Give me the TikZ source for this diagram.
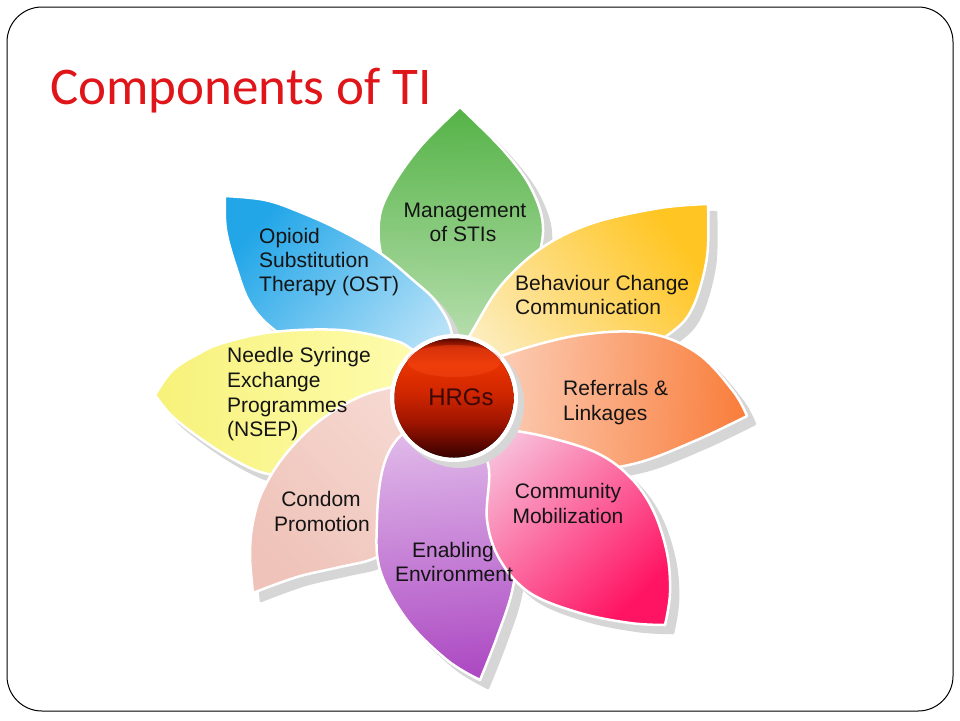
\documentclass[tikz,border=0pt]{standalone}
\usepackage{fontspec}
\setmainfont{Liberation Sans}
\newfontfamily\titlefont{Carlito}
\definecolor{titlered}{HTML}{DF1519}
\definecolor{lbltext}{HTML}{141414}
\definecolor{hrgtext}{HTML}{3A0808}
\definecolor{b0}{HTML}{380300}
\definecolor{b1}{HTML}{5A0600}
\definecolor{b2}{HTML}{A01500}
\definecolor{b3}{HTML}{D02600}
\definecolor{b4}{HTML}{E83300}
\definecolor{b5}{HTML}{C42400}
\definecolor{b6}{HTML}{5A0700}
\definecolor{hlB}{HTML}{FF5020}
\definecolor{gT}{HTML}{55B347}\definecolor{gB}{HTML}{C8E6C0}
\definecolor{blT}{HTML}{22A6E8}\definecolor{blB}{HTML}{B8E2F8}
\definecolor{yoT}{HTML}{FFC522}\definecolor{yoB}{HTML}{FDEDBE}
\definecolor{nsT}{HTML}{F7F27A}\definecolor{nsB}{HTML}{FFFDB5}
\definecolor{orT}{HTML}{F97E3C}\definecolor{orB}{HTML}{FCD5C2}
\definecolor{cdT}{HTML}{EFC3B9}\definecolor{cdB}{HTML}{F6D9D2}
\definecolor{puT}{HTML}{AD4AC3}\definecolor{puB}{HTML}{E3C1EC}
\definecolor{pkT}{HTML}{FF1463}\definecolor{pkB}{HTML}{F8BEDA}
\pgfdeclareverticalshading{ballshade}{100bp}{color(0bp)=(b0); color(25bp)=(b0); color(30bp)=(b1); color(40bp)=(b2); color(52bp)=(b3); color(64bp)=(b4); color(71bp)=(b5); color(75bp)=(b6); color(100bp)=(b6)}
\newcommand\drawpetal[5]{%
  \fill[pshadow, shift={(8,8)}] plot[smooth,tension=0.6] coordinates {#1} -- plot[smooth,tension=0.6] coordinates {#2} -- cycle;
  \path[petalbox, top color=#3, bottom color=#4, shading angle=#5] plot[smooth,tension=0.6] coordinates {#1} -- plot[smooth,tension=0.6] coordinates {#2} -- cycle;
}
\begin{document}
\begin{tikzpicture}[x=1pt,y=-1pt,
  petalbox/.style={draw=white, line width=2.5pt, line join=round},
  pshadow/.style={fill=black!16, draw=black!16, line width=2.5pt, line join=round},
  lbl/.style={font=\fontsize{21}{25}\selectfont, text=lbltext, inner sep=0pt},
]
\useasboundingbox (0,0) rectangle (960,720);
\fill[white] (0,0) rectangle (960,720);
\draw[line width=1pt, rounded corners=35pt] (7,7) rectangle (953,711);
\node[font=\titlefont\fontsize{53}{60}\selectfont, text=titlered, anchor=base west, inner sep=0pt] (title) at (50,104) {Components of TI};

% green
\drawpetal{(455,385) (493,338) (528,283) (543,232) (532,190) (504,151) (460,107)}
 {(460,107) (420,147) (390,190) (379,222) (383,262) (405,312) (435,360) (455,385)}
 {gT}{gB}{-1}
% blue
\drawpetal{(448,385) (452,335) (437,303) (413,280) (380,253) (340,230) (300,212) (265,200) (225,196)}
 {(225,196) (226,230) (237,270) (250,303) (272,328) (310,352) (360,372) (410,385) (448,385)}
 {blT}{blB}{48.7}
% yellow-orange
\drawpetal{(465,392) (462,355) (477,323) (503,283) (543,247) (593,223) (660,208) (708,204)}
 {(708,204) (707,257) (693,307) (672,332) (635,352) (580,368) (520,385) (465,392)}
 {yoT}{yoB}{-52.5}
% NSEP
\drawpetal{(448,405) (438,368) (413,350) (393,340) (340,330) (273,332) (223,343) (200,353) (173,370) (155,395)}
 {(155,395) (173,417) (207,443) (240,463) (268,474) (310,478) (360,468) (410,440) (448,405)}
 {nsT}{nsB}{89.4}
% orange
\drawpetal{(465,410) (485,368) (510,353) (580,335) (647,333) (697,353) (733,391) (747,416)}
 {(747,416) (697,440) (637,463) (580,470) (525,458) (485,435) (465,410)}
 {orT}{orB}{-93}
% condom
\drawpetal{(445,405) (420,386) (393,387) (357,398) (318,422) (285,455) (263,490) (253,522) (250,555) (253,593)}
 {(253,593) (297,577) (340,567) (375,558) (410,535) (432,490) (445,440) (445,405)}
 {cdT}{cdB}{134}
% purple
\drawpetal{(455,410) (418,424) (395,442) (382,472) (377,520) (380,570) (407,620) (447,660) (480,680)}
 {(480,680) (497,637) (513,587) (518,530) (505,470) (480,430) (455,410)}
 {puT}{puB}{-175}
% pink
\drawpetal{(465,420) (500,428) (547,437) (597,453) (630,477) (653,510) (667,553) (670,593) (665,625)}
 {(665,625) (630,623) (580,613) (530,593) (500,560) (487,520) (489,470) (478,440) (465,420)}
 {pkT}{pkB}{-137}

% centre
\fill[black!16] (460,404) circle[radius=64];
\fill[white] (454,398) circle[radius=64];
\fill[shading=ballshade] (454,398) circle[radius=59.5];
\fill[hlB, opacity=0.35] (454,361) ellipse[x radius=47, y radius=16];
\node[font=\fontsize{24}{28}\selectfont, text=hrgtext, anchor=base, inner sep=0pt] (hrgs) at (461,405) {HRGs};

% labels
\node[lbl, anchor=base] (m1) at (465,217) {Management};
\node[lbl, anchor=base] (m2) at (463,241) {of STIs};
\node[lbl, anchor=base west] (o1) at (259,243) {Opioid};
\node[lbl, anchor=base west] (o2) at (259,267) {Substitution};
\node[lbl, anchor=base west] (o3) at (259,291) {Therapy (OST)};
\node[lbl, anchor=base west] (b1) at (515,290) {Behaviour Change};
\node[lbl, anchor=base west] (b2) at (515,314) {Communication};
\node[lbl, anchor=base west] (n1) at (227,362) {Needle Syringe};
\node[lbl, anchor=base west] (n2) at (227,387) {Exchange};
\node[lbl, anchor=base west] (n3) at (227,412) {Programmes};
\node[lbl, anchor=base west] (n4) at (227,436) {(NSEP)};
\node[lbl, anchor=base west] (r1) at (563,395) {Referrals \&};
\node[lbl, anchor=base west] (r2) at (563,420) {Linkages};
\node[lbl, anchor=base] (c1) at (568,498) {Community};
\node[lbl, anchor=base] (c2) at (568,523) {Mobilization};
\node[lbl, anchor=base] (p1) at (321,506) {Condom};
\node[lbl, anchor=base] (p2) at (322,531) {Promotion};
\node[lbl, anchor=base] (e1) at (453,557) {Enabling};
\node[lbl, anchor=base] (e2) at (454,581) {Environment};
\end{tikzpicture}
\end{document}
